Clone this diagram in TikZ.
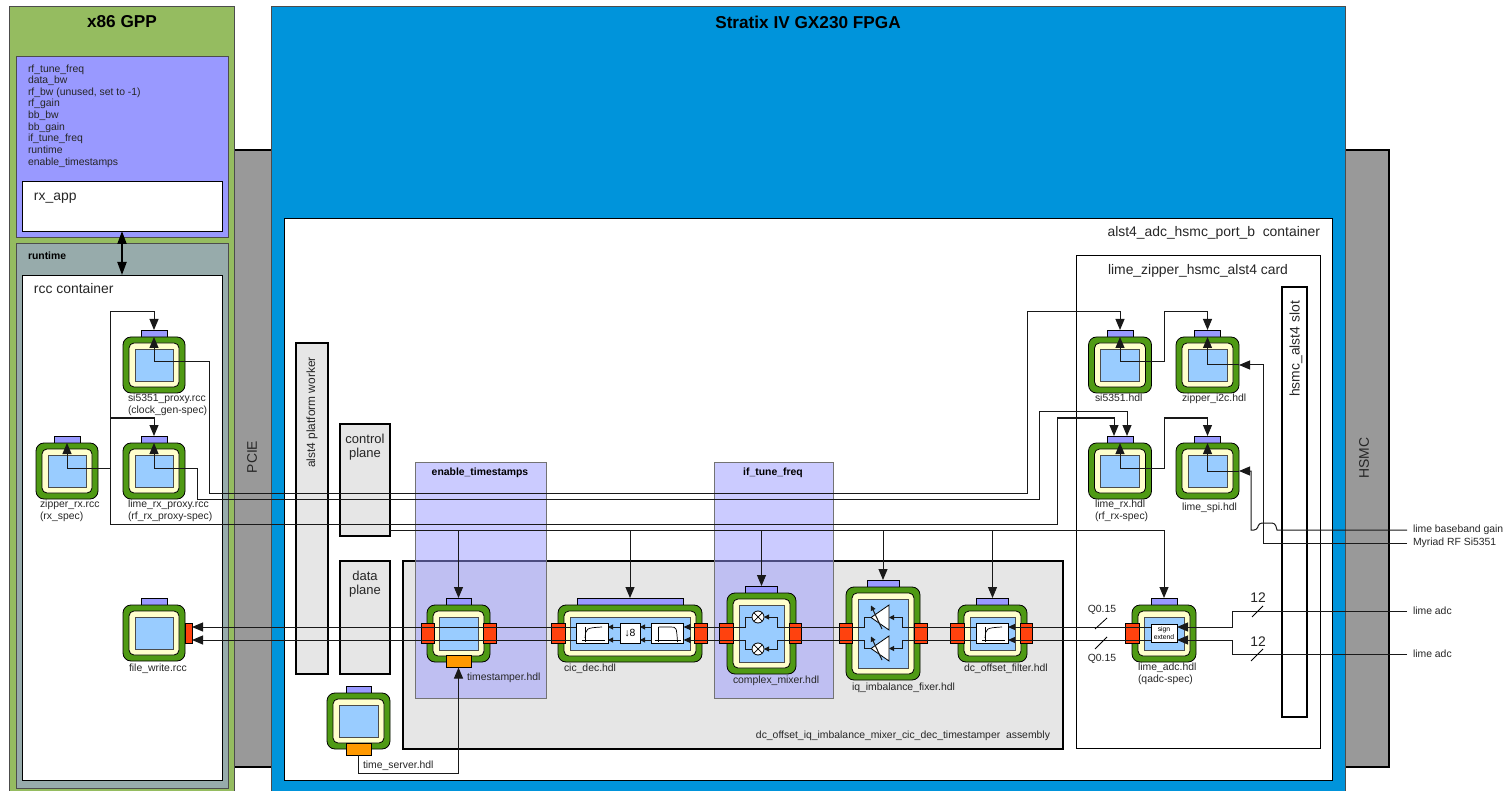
\documentclass[tikz,border=0pt]{standalone}
\usepackage{fontspec}
\setmainfont{Liberation Sans}
\usetikzlibrary{calc,arrows.meta,shapes.geometric}
\definecolor{gppgreen}{HTML}{95BC60}
\definecolor{fpgablue}{HTML}{0094DB}
\definecolor{slotgrey}{HTML}{999999}
\definecolor{rtgrey}{HTML}{97ABAB}
\definecolor{pargrey}{HTML}{E6E6E6}
\definecolor{parpurple}{HTML}{9999FF}
\definecolor{wkgreen}{HTML}{4F9A14}
\definecolor{wkcream}{HTML}{FFFFCC}
\definecolor{wkblue}{HTML}{99CCFF}
\definecolor{portred}{HTML}{FF420E}
\definecolor{clkorange}{HTML}{FF9900}
\tikzstyle{box} = [rectangle, inner sep=0pt, outer sep=0pt, draw=black!70, line width=0.8pt]
\tikzstyle{plane} = [box, draw=black, line width=2pt, fill=pargrey]
\tikzstyle{propbox} = [box, draw=black!55, fill=parpurple, fill opacity=0.5, text opacity=1]
\tikzstyle{wkouter} = [box, draw=black, rounded corners=8pt, fill=wkgreen]
\tikzstyle{wkmid} = [box, draw=black, rounded corners=5pt, fill=wkcream]
\tikzstyle{wkcore} = [box, draw=black!70, fill=wkblue]
\tikzstyle{wktab} = [box, draw=black, fill=parpurple, minimum height=7]
\tikzstyle{port} = [box, draw=black, fill=portred, minimum height=20]
\tikzstyle{clk} = [box, draw=black, fill=clkorange, minimum width=25, minimum height=12]
\tikzstyle{func} = [box, draw=black, fill=white, minimum height=20]
\tikzstyle{mixer} = [circle, draw=black, fill=white, inner sep=0pt, outer sep=0pt, line width=0.8pt, minimum size=12]
\tikzstyle{amp} = [isosceles triangle, isosceles triangle stretches, shape border rotate=180, draw=black, fill=white, inner sep=0pt, outer sep=0pt, line width=0.8pt, minimum width=25, minimum height=18, anchor=apex]
\tikzstyle{lbl} = [inner sep=0pt, outer sep=0pt, anchor=north west, align=left, text=black!85, font=\fontsize{10.4}{12.5}\selectfont]
\tikzstyle{biglbl} = [inner sep=0pt, outer sep=0pt, text=black!85, font=\fontsize{13.9}{14}\selectfont]
\tikzstyle{boldlbl} = [inner sep=0pt, outer sep=0pt, font=\bfseries\fontsize{10.4}{12}\selectfont]
\tikzstyle{title} = [inner sep=0pt, outer sep=0pt, font=\bfseries\fontsize{17.2}{19}\selectfont]
\tikzstyle{extlbl} = [lbl, anchor=west, inner xsep=6pt]
\tikzstyle{wire} = [line width=1pt, draw=black!90]
\tikzstyle{arrow} = [wire, ->, >={Triangle[length=11pt,width=9pt]}]
\tikzstyle{darrow} = [wire, <->, >={Triangle[length=11pt,width=9pt]}]
\tikzstyle{midarrow} = [wire, ->, >={Triangle[length=7pt,width=6pt]}]
\tikzstyle{smallarrow} = [wire, ->, >={Triangle[length=5pt,width=5pt]}]
% name, x, y, width, height, width of the tab
\newcommand{\worker}[6]{%
  \node (#1-tab) [wktab, minimum width=#6, anchor=south] at (#2,#3-#5/2) {};
  \node (#1) [wkouter, minimum width=#4, minimum height=#5] at (#2,#3) {};
  \node (#1-mid) [wkmid, minimum width=#4-12, minimum height=#5-12] at (#1) {};
  \node (#1-core) [wkcore, minimum width=#4-24, minimum height=#5-24] at (#1) {};
}
\newcommand{\risecurve}[1]{%
  \draw [line width=0.7pt] ([shift={(-10,7)}]#1.center) -- ([shift={(13,7)}]#1.center);
  \draw [line width=0.7pt] ([shift={(-7,-6)}]#1.center) -- ([shift={(-7,9)}]#1.center);
  \draw [line width=0.7pt] ([shift={(-7,5)}]#1.center) .. controls ([shift={(-6,-5)}]#1.center) .. ([shift={(10,-6)}]#1.center);
}
\newcommand{\dropcurve}[1]{%
  \draw [line width=0.7pt] ([shift={(-13,7)}]#1.center) -- ([shift={(13,7)}]#1.center);
  \draw [line width=0.7pt] ([shift={(-9,-6)}]#1.center) -- ([shift={(-9,9)}]#1.center);
  \draw [line width=0.7pt] ([shift={(-9,-6)}]#1.center) -- ([shift={(3,-6)}]#1.center) .. controls ([shift={(9,-6)}]#1.center) .. ([shift={(10,9)}]#1.center);
}
\begin{document}
\begin{tikzpicture}[x=1pt, y=-1pt]
  \useasboundingbox (0,0) rectangle (1510,791);
  \clip (0,0) rectangle (1510,791);
  \fill [white] (0,0) rectangle (1510,791);

  % slots behind the two cards
  \node (pcie) [box, draw=black, line width=2pt, fill=slotgrey, minimum width=46, minimum height=617] at (252,458.5) {};
  \node (hsmc) [box, draw=black, line width=2pt, fill=slotgrey, minimum width=50, minimum height=617] at (1364,458.5) {};
  \node (gpp) [box, fill=gppgreen, minimum width=225, minimum height=800, anchor=north west] at (9,6) {};
  \node (fpga) [box, fill=fpgablue, minimum width=1074, minimum height=800, anchor=north west] at (271,6) {};
  \node (pcielbl) [biglbl, rotate=90] at (252,457) {PCIE};
  \node (hsmclbl) [biglbl, rotate=90] at (1364,458) {HSMC};
  \node (gpplbl) [title] at (122,22) {x86 GPP};
  \node (fpgalbl) [title] at (808,22) {Stratix IV GX230 FPGA};

  % host side
  \node (params) [box, fill=parpurple, minimum width=212, minimum height=181, anchor=north west] at (16,56) {};
  \node (paramlbl) [lbl, font=\fontsize{10.4}{11.65}\selectfont] at (28,64.5) {rf\_tune\_freq\\data\_bw\\rf\_bw (unused, set to -1)\\rf\_gain\\bb\_bw\\bb\_gain\\if\_tune\_freq\\runtime\\enable\_timestamps};
  \node (rxapp) [box, draw=black, fill=white, minimum width=200, minimum height=50, anchor=north west] at (22,181) {};
  \node (rxapplbl) [biglbl, anchor=west] at (34,198) {rx\_app};
  \node (runtime) [box, fill=rtgrey, minimum width=212, minimum height=545, anchor=north west] at (16,243) {};
  \node (runtimelbl) [boldlbl, anchor=west] at (28,256) {runtime};
  \node (rcc) [box, draw=black, fill=white, minimum width=200, minimum height=505, anchor=north west] at (22,275) {};
  \node (rcclbl) [biglbl, anchor=west] at (34,289) {rcc container};
  \draw [line width=2pt, <->, >={Triangle[length=13pt,width=9pt]}] (rxapp.south) -- (rcc.north);

  \worker{siprx}{154}{365}{62}{56}{26}
  \worker{zipprx}{67}{471}{62}{56}{26}
  \worker{limeprx}{154}{471}{62}{56}{26}
  \worker{fwrite}{154}{633}{62}{56}{26}
  \node (fwrite-port) [port, minimum width=7] at (188.5,633.5) {};
  \node (siprxlbl) [lbl] at (128,393.5) {si5351\_proxy.rcc\\(clock\_gen-spec)};
  \node (zipprxlbl) [lbl] at (40,499.5) {zipper\_rx.rcc\\(rx\_spec)};
  \node (limeprxlbl) [lbl] at (128,499.5) {lime\_rx\_proxy.rcc\\(rf\_rx\_proxy-spec)};
  \node (fwritelbl) [lbl] at (129,663.5) {file\_write.rcc};

  % fpga side
  \node (cont) [box, draw=black, fill=white, minimum width=1048, minimum height=562, anchor=north west] at (284,218) {};
  \node (contlbl) [biglbl, anchor=east] at (1320,232.5) {alst4\_adc\_hsmc\_port\_b~ container};
  \node (card) [box, draw=black, fill=white, minimum width=244, minimum height=493, anchor=north west] at (1076,255) {};
  \node (cardlbl) [biglbl] at (1198,271) {lime\_zipper\_hsmc\_alst4 card};
  \node (slot) [box, draw=black, line width=2pt, fill=white, minimum width=25, minimum height=430, anchor=north west] at (1282,287) {};
  \node (slotlbl) [biglbl, rotate=90] at (1296,349) {hsmc\_alst4 slot};
  \node (pfw) [plane, minimum width=32, minimum height=331, anchor=north west] at (296,343) {};
  \node (pfwlbl) [biglbl, rotate=90, font=\fontsize{11.9}{13}\selectfont] at (312,412.5) {alst4 platform worker};
  \node (ctrl) [plane, minimum width=50, minimum height=112, anchor=north west] at (340,424) {};
  \node (ctrllbl) [biglbl, align=center, font=\fontsize{13}{13.3}\selectfont] at (365,447) {control\\plane};
  \node (data) [plane, minimum width=50, minimum height=113, anchor=north west] at (340,561) {};
  \node (datalbl) [biglbl, align=center, font=\fontsize{13}{13.3}\selectfont] at (365,584) {data\\plane};
  \node (asm) [plane, minimum width=660, minimum height=188, anchor=north west] at (403,561) {};
  \node (asmlbl) [lbl, anchor=east] at (1050,735.5) {dc\_offset\_iq\_imbalance\_mixer\_cic\_dec\_timestamper~ assembly};

  \node (tsprop) [propbox, minimum width=131, minimum height=236, anchor=north west] at (415,462) {};
  \node (tsproplbl) [boldlbl] at (480,473) {enable\_timestamps};
  \node (ifprop) [propbox, minimum width=119, minimum height=236, anchor=north west] at (714,462) {};
  \node (ifproplbl) [boldlbl] at (773,473) {if\_tune\_freq};

  \worker{si}{1120}{365}{63}{56}{26}
  \worker{i2c}{1207.5}{365}{63}{56}{26}
  \worker{limerx}{1120}{471}{63}{56}{26}
  \worker{spi}{1207.5}{471}{63}{56}{26}
  \node (silbl) [lbl] at (1095,394) {si5351.hdl};
  \node (i2clbl) [lbl] at (1182,394) {zipper\_i2c.hdl};
  \node (limerxlbl) [lbl] at (1095,499.5) {lime\_rx.hdl\\(rf\_rx-spec)};
  \node (spilbl) [lbl] at (1182,502.5) {lime\_spi.hdl};

  \worker{tsv}{358.5}{721}{63}{56}{25}
  \node (tsv-clk) [clk] at (358.5,749) {};
  \node (tsvlbl) [lbl] at (363,760.5) {time\_server.hdl};

  \worker{ts}{458.5}{633.5}{63}{57}{25}
  \node (ts-clk) [clk] at (458.5,661.5) {};
  \node (ts-pl) [port, minimum width=13] at (427.5,633) {};
  \node (ts-pr) [port, minimum width=13] at (489.5,633) {};
  \node (tslbl) [lbl] at (467,672.5) {timestamper.hdl};

  \worker{cic}{630}{633.5}{144}{57}{106}
  \node (cic-pl) [port, minimum width=14] at (558,633) {};
  \node (cic-pr) [port, minimum width=13] at (701,633) {};
  \node (cic-hp) [func, minimum width=32] at (592,633) {};
  \node (cic-dec) [func, minimum width=20, font=\fontsize{10.4}{11}\selectfont] at (630,633) {↓8};
  \node (cic-lp) [func, minimum width=32] at (667.5,633) {};
  \risecurve{cic-hp}
  \dropcurve{cic-lp}
  \node (ciclbl) [lbl] at (564,663.5) {cic\_dec.hdl};

  \worker{mix}{761.5}{633.5}{69}{81}{32}
  \node (mix-pl) [port, minimum width=14] at (726,633) {};
  \node (mix-pr) [port, minimum width=12] at (795,633) {};
  \node (mix-a) [mixer] at (758,617) {};
  \node (mix-b) [mixer] at (758,649) {};
  \draw [line width=0.7pt] (mix-a.north west) -- (mix-a.south east);
  \draw [line width=0.7pt] (mix-a.north east) -- (mix-a.south west);
  \draw [line width=0.7pt] (mix-b.north west) -- (mix-b.south east);
  \draw [line width=0.7pt] (mix-b.north east) -- (mix-b.south west);
  \node (mixlbl) [lbl] at (733,675.5) {complex\_mixer.hdl};

  \worker{iq}{883}{633.5}{74}{93}{32}
  \node (iq-pl) [port, minimum width=13] at (845.5,633) {};
  \node (iq-pr) [port, minimum width=13] at (920.5,633) {};
  \node (amp-a) [amp] at (871,617.5) {};
  \node (amp-b) [amp] at (871,648.5) {};
  \draw [smallarrow] ([shift={(11,11.5)}]amp-a.apex) -- ([shift={(0,-12)}]amp-a.apex);
  \draw [smallarrow] ([shift={(11,11.5)}]amp-b.apex) -- ([shift={(0,-12)}]amp-b.apex);
  \node (iqlbl) [lbl] at (852,682.5) {iq\_imbalance\_fixer.hdl};

  \worker{dcf}{992.5}{633.5}{69}{57}{32}
  \node (dcf-pl) [port, minimum width=14] at (957,633) {};
  \node (dcf-pr) [port, minimum width=12] at (1026,633) {};
  \node (dcf-hp) [func, minimum width=32] at (992,633) {};
  \risecurve{dcf-hp}
  \node (dcflbl) [lbl] at (964,663.5) {dc\_offset\_filter.hdl};

  \worker{adc}{1164}{633.5}{64}{57}{26}
  \node (adc-pl) [port, minimum width=14] at (1132,633) {};
  \node (adc-box) [func, minimum width=26, minimum height=18, align=center, font=\fontsize{6.8}{8}\selectfont] at (1164,633) {sign\\extend};
  \node (adclbl) [lbl] at (1138,662.5) {lime\_adc.hdl\\(qadc-spec)};

  % labels at the card edge
  \node (gainlbl) [extlbl] at (1407,530) {lime baseband gain};
  \node (myriadlbl) [extlbl] at (1407,543) {Myriad RF Si5351};
  \node (adcilbl) [extlbl] at (1407,611) {lime adc};
  \node (adcqlbl) [extlbl] at (1407,654) {lime adc};
  \node (wlblia) [biglbl] at (1258,597.5) {12};
  \node (wlblqa) [biglbl] at (1258,641.5) {12};
  \node (wlblib) [lbl, anchor=center] at (1102,610) {Q0.15};
  \node (wlblqb) [lbl, anchor=center] at (1102,659) {Q0.15};

  % the two sample rails and the control rail
  \coordinate (rail) at (0,627);
  \coordinate (qrail) at (0,640);
  \coordinate (ctlrail) at (0,530);
  \coordinate (busleft) at (110,468);

  % data path
  \draw [arrow] (adcilbl.west) -- ++(-175,0) |- (adc-box.east |- rail);
  \draw [arrow] (adcqlbl.west) -- ++(-175,0) |- (adc-box.east |- qrail);
  \draw [midarrow] (adc-box.west |- rail) -- (dcf-hp.east |- rail);
  \draw [midarrow] (adc-box.west |- qrail) -- (dcf-hp.east |- qrail);
  \draw [smallarrow] (dcf-hp.west |- rail) -- (902,627) |- (amp-a.east);
  \draw [smallarrow] (dcf-hp.west |- qrail) -- (902,640) |- (amp-b.east);
  \draw [smallarrow] (amp-a.apex) -- (864,617.5) |- (777,627) |- (mix-a.east);
  \draw [smallarrow] (amp-b.apex) -- (864,648.5) |- (777,640) |- (mix-b.east);
  \draw [midarrow] (mix-a.west) -- (745,617) |- (cic-lp.east |- rail);
  \draw [midarrow] (mix-b.west) -- (745,649) |- (cic-lp.east |- qrail);
  \draw [smallarrow] (cic-lp.west |- rail) -- (cic-dec.east |- rail);
  \draw [smallarrow] (cic-lp.west |- qrail) -- (cic-dec.east |- qrail);
  \draw [smallarrow] (cic-dec.west |- rail) -- (cic-hp.east |- rail);
  \draw [smallarrow] (cic-dec.west |- qrail) -- (cic-hp.east |- qrail);
  \draw [arrow] (cic-hp.west |- rail) -- (fwrite-port.east |- rail);
  \draw [arrow] (cic-hp.west |- qrail) -- (fwrite-port.east |- qrail);
  \draw [line width=0.8pt] (1095,629) -- (1107,618);
  \draw [line width=0.8pt] (1095,649) -- (1107,637);
  \draw [line width=0.8pt] (1252,617) -- (1263,606);
  \draw [line width=0.8pt] (1251,661) -- (1263,649);

  % control path
  \draw [darrow] (siprx.north) -- ++(0,24.5) -| (209,493) -| (1027,312) -| (si-tab.north);
  \draw [darrow] (limeprx.north) -- ++(0,25) -| (197,499) -| (1039,412) -| ([xshift=7]limerx-tab.north);
  \draw [arrow] (busleft) -| (zipprx.north);
  \draw [arrow] (busleft) |- (154,312) -- (siprx-tab.north);
  \draw [arrow] (110,418) -| (limeprx-tab.north);
  \draw [arrow] (busleft) |- (1057,524) |- ([xshift=-6]limerx-tab.north |- 0,418) -- ([xshift=-6]limerx-tab.north);
  \draw [darrow] (si.north) -- ++(0,24.5) -| (1164,312) -| (i2c-tab.north);
  \draw [darrow] (limerx.north) -- ++(0,25) -| (1164,418) -| (spi-tab.north);
  \draw [arrow] (ctrl.east |- ctlrail) -| (adc-tab.north);
  \draw [arrow] (ts-tab.north |- ctlrail) -- (ts-tab.north);
  \draw [arrow] (cic-tab.north |- ctlrail) -- (cic-tab.north);
  \draw [arrow] (mix-tab.north |- ctlrail) -- (mix-tab.north);
  \draw [arrow] (iq-tab.north |- ctlrail) -- (iq-tab.north);
  \draw [arrow] (dcf-tab.north |- ctlrail) -- (dcf-tab.north);
  \draw [arrow] (tsv-clk.south) -- ++(0,18) -| (ts-clk.south);
  \draw [arrow] (i2c.east) -| (i2c.north);
  \draw [arrow] (spi.east) -| (spi.north);
  \draw [arrow] (myriadlbl.west) -- ++(-144,0) |- (i2c.east);
  \draw [arrow] (gainlbl.west) -- ++(-130,0) [rounded corners=3pt] -- ++(-2,-7) -- ++(-16,0) -- ++(-2,7) [sharp corners] -- ++(-6,0) |- (spi.east);
\end{tikzpicture}
\end{document}
